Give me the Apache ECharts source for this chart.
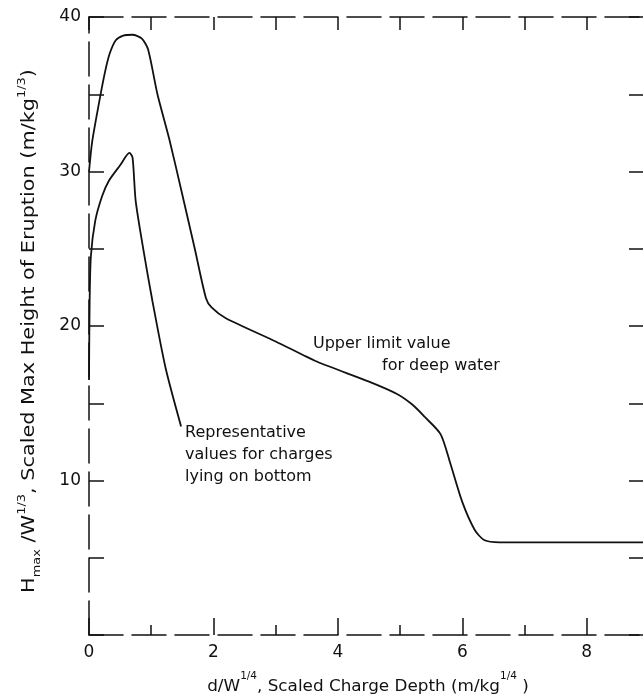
<!DOCTYPE html>
<html>
<head>
<meta charset="utf-8">
<script src="https://cdn.jsdelivr.net/npm/echarts@6/dist/echarts.min.js"></script>
<style>
  html, body { margin: 0; padding: 0; background: #fff; }
  #chart { width: 643px; height: 697px; }
</style>
</head>
<body>
<div id="chart"></div>
<script>
// Upper limit value for deep water
const deepWaterX = [0, 0.05, 0.15, 0.25, 0.33, 0.43, 0.55, 0.7, 0.85, 0.95, 1.1, 1.29, 1.5, 1.7, 1.88, 1.97, 2.2, 3.0, 3.66, 4.5, 4.95, 5.2, 5.4, 5.65, 5.8, 6.0, 6.2, 6.35, 6.6, 9.0];
const deepWaterY = [30.0, 31.9, 34.2, 36.3, 37.6, 38.5, 38.8, 38.85, 38.6, 37.9, 35.0, 32.1, 28.5, 25.0, 21.8, 21.2, 20.5, 19.0, 17.7, 16.4, 15.6, 14.9, 14.1, 13.0, 11.2, 8.6, 6.8, 6.15, 6.0, 6.0];
// Representative values for charges lying on bottom
const bottomX = [0, 0.01, 0.03, 0.1, 0.21, 0.32, 0.5, 0.65, 0.7, 0.75, 0.88, 1.02, 1.23, 1.48];
const bottomY = [16.5, 21.5, 24.5, 26.8, 28.4, 29.4, 30.4, 31.2, 30.9, 28.1, 24.8, 21.6, 17.3, 13.5];
// Tick labels
const xTickLabels = ['0', '2', '4', '6', '8'];
const yTickLabels = ['10', '20', '30', '40'];

const chart = echarts.init(document.getElementById('chart'));
const ink = '#111';
const font = 'DejaVu Sans';
const axisLine = { show: true, onZero: false, lineStyle: { color: ink, width: 1.5, type: [34, 9] } };

const zip = (xs, ys) => xs.map((x, i) => [x, ys[i]]);

const option = {
  animation: false,
  backgroundColor: '#fff',
  grid: { left: 89, right: -6, top: 17, bottom: 62, outerBoundsMode: 'none', containLabel: false },
  xAxis: [
    {
      type: 'value', position: 'bottom', min: 0, max: 9, interval: 2,
      axisLine: axisLine,
      axisTick: { show: true, inside: true, length: 17, lineStyle: { color: ink, width: 1.5 } },
      minorTick: { show: true, splitNumber: 2, length: 10, lineStyle: { color: ink, width: 1.5 } },
      splitLine: { show: false },
      axisLabel: {
        margin: 9, fontSize: 17, fontFamily: font, color: ink,
        formatter: v => xTickLabels.includes(String(v)) ? String(v) : ''
      }
    },
    {
      type: 'value', position: 'top', min: 0, max: 9, interval: 1,
      axisLine: axisLine,
      axisTick: { show: true, inside: true, length: 13, lineStyle: { color: ink, width: 1.5 } },
      splitLine: { show: false },
      axisLabel: { show: false }
    }
  ],
  yAxis: [
    {
      type: 'value', position: 'left', min: 0, max: 40, interval: 5,
      axisLine: axisLine,
      axisTick: { show: true, inside: true, length: 15, lineStyle: { color: ink, width: 1.5 } },
      splitLine: { show: false },
      axisLabel: {
        margin: 8, fontSize: 17, fontFamily: font, color: ink,
        formatter: v => yTickLabels.includes(String(v)) ? String(v) : ''
      }
    },
    {
      type: 'value', position: 'right', min: 0, max: 40, interval: 5,
      axisLine: axisLine,
      axisTick: { show: true, inside: true, length: 20, lineStyle: { color: ink, width: 1.5 } },
      splitLine: { show: false },
      axisLabel: { show: false }
    }
  ],
  series: [
    {
      name: 'Upper limit value for deep water', type: 'line',
      data: zip(deepWaterX, deepWaterY), showSymbol: false, smooth: 0.25,
      lineStyle: { color: ink, width: 1.8 }
    },
    {
      name: 'Representative values for charges lying on bottom', type: 'line',
      data: zip(bottomX, bottomY), showSymbol: false, smooth: 0.25,
      lineStyle: { color: ink, width: 1.8 }
    }
  ],
  graphic: [
    {
      type: 'text', x: 313, y: 344,
      style: { text: 'Upper limit value', fontSize: 16, fontFamily: font, fill: ink, align: 'left', verticalAlign: 'middle' }
    },
    {
      type: 'text', x: 382, y: 366,
      style: { text: 'for deep water', fontSize: 16, fontFamily: font, fill: ink, align: 'left', verticalAlign: 'middle' }
    },
    {
      type: 'text', x: 185, y: 422,
      style: { text: 'Representative\nvalues for charges\nlying on bottom', fontSize: 16, lineHeight: 22, fontFamily: font, fill: ink, align: 'left', verticalAlign: 'top' }
    },
    {
      type: 'text', x: 368, y: 683, scaleX: 1.05,
      style: {
        text: '{n|d/W}{sup|1/4}{n|, Scaled Charge Depth (m/kg}{sup|1/4}{n| )}',
        align: 'center', verticalAlign: 'middle', fill: ink,
        rich: {
          n: { fontSize: 16, fontFamily: font, fill: ink, lineHeight: 24, verticalAlign: 'bottom' },
          sup: { fontSize: 10, fontFamily: font, fill: ink, verticalAlign: 'top', lineHeight: 12 }
        }
      }
    },
    {
      type: 'text', x: 30, y: 331, rotation: Math.PI / 2, scaleX: 1.3, scaleY: 1.05,
      style: {
        text: '{n|H}{sub|max}{n| /W}{sup|1/3}{n|, Scaled Max Height of Eruption (m/kg}{sup|1/3}{n|)}',
        align: 'center', verticalAlign: 'middle', fill: ink,
        rich: {
          n: { fontSize: 16, fontFamily: font, fill: ink, lineHeight: 24 },
          sub: { fontSize: 10, fontFamily: font, fill: ink, verticalAlign: 'bottom', lineHeight: 12 },
          sup: { fontSize: 10, fontFamily: font, fill: ink, verticalAlign: 'top', lineHeight: 12 }
        }
      }
    }
  ]
};
chart.setOption(option);
</script>
</body>
</html>
